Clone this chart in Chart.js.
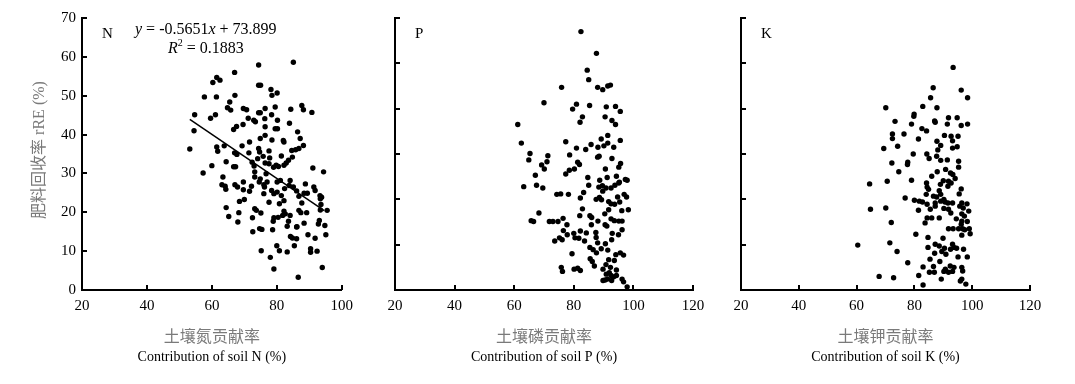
<!DOCTYPE html>
<html>
<head>
<meta charset="utf-8">
<script src="https://cdn.jsdelivr.net/npm/chart.js@4.4.1/dist/chart.umd.min.js"></script>
<style>
  body { margin: 0; background: #fff; width: 1075px; height: 384px; overflow: hidden; position: relative; }
  canvas { position: absolute; top: 0; }
</style>
</head>
<body>
<canvas id="cN" width="360" height="384" style="left:0"></canvas>
<canvas id="cP" width="360" height="384" style="left:360px"></canvas>
<canvas id="cK" width="360" height="384" style="left:715px"></canvas>
<script>
// rRE (%) against soil contribution (%) as [x, y]
const nPoints = [
  [53.2,36.3],[54.7,45.1],[54.5,41.0],[57.3,30.1],[57.7,49.7],[59.6,44.2],[60.0,32.0],[60.3,53.4],[61.1,45.1],[61.4,49.7],
  [61.5,54.7],[62.5,54.0],[61.5,36.8],[61.8,35.7],[63.8,37.1],[63.4,29.1],[63.1,27.1],[64.1,26.7],[64.3,25.9],[64.4,33.0],
  [64.4,21.2],[65.2,18.9],[64.8,46.9],[65.8,46.3],[65.5,48.4],[67.0,56.0],[67.1,50.1],[66.7,41.3],[67.6,42.1],[67.0,35.3],
  [67.7,34.9],[66.7,31.7],[67.3,31.7],[67.1,27.1],[67.9,26.5],[68.0,17.5],[68.3,19.9],[68.5,22.8],[69.6,42.6],[69.7,46.7],
  [70.7,46.4],[69.3,37.1],[69.7,27.8],[69.7,25.8],[70.0,23.3],[71.2,44.2],[71.6,38.1],[71.4,35.3],[71.6,25.4],[72.2,26.7],
  [72.4,32.9],[72.5,18.6],[72.6,15.0],[72.9,43.7],[73.4,43.3],[73.0,31.9],[73.2,30.4],[73.2,29.1],[73.2,20.9],[73.7,20.5],
  [74.4,57.9],[74.4,52.7],[75.0,52.7],[74.4,45.6],[74.9,45.6],[74.4,36.4],[74.7,35.5],[74.1,33.8],[74.9,39.0],[74.9,28.6],
  [74.6,27.8],[75.1,19.8],[74.7,15.8],[75.4,15.6],[75.2,10.1],[76.0,27.1],[76.0,24.8],[76.4,46.7],[76.3,44.1],[76.4,42.0],
  [76.4,39.8],[76.4,32.7],[76.7,29.9],[76.2,26.5],[77.6,35.8],[77.8,34.0],[77.6,32.5],[77.6,22.6],[78.0,8.4],[78.2,51.6],
  [78.4,45.1],[78.5,50.1],[79.0,31.6],[78.5,38.6],[79.1,24.8],[78.4,25.6],[79.1,18.6],[78.7,15.5],[78.9,17.7],[79.1,5.4],
  [79.5,47.1],[80.1,50.7],[79.5,41.5],[80.2,41.5],[80.2,43.7],[79.8,32.1],[80.5,31.8],[80.1,25.2],[80.1,27.8],[80.0,11.4],
  [80.4,18.7],[80.8,10.1],[81.1,28.2],[81.4,34.5],[82.0,38.5],[82.2,38.1],[82.2,32.1],[82.2,23.0],[82.2,20.3],[81.8,19.2],
  [82.9,32.7],[83.2,16.4],[83.2,9.8],[83.6,33.4],[83.8,26.9],[84.1,28.2],[83.9,42.9],[84.3,46.5],[83.6,17.7],[84.1,19.2],
  [84.2,13.8],[84.8,13.4],[85.1,58.6],[84.6,35.9],[84.8,34.2],[85.1,26.5],[85.4,11.4],[85.8,36.1],[86.1,25.5],[86.1,13.2],
  [86.1,16.2],[86.2,16.3],[86.4,40.7],[86.6,3.3],[86.8,36.4],[86.8,24.1],[86.8,20.5],[87.2,39.0],[87.4,19.9],[87.7,22.4],
  [87.7,47.5],[88.2,46.4],[88.2,37.2],[88.4,24.9],[88.4,17.2],[88.8,27.3],[89.2,19.9],[89.4,24.9],[89.6,14.2],[90.4,10.6],
  [90.4,9.7],[90.8,45.7],[91.1,31.4],[91.4,26.5],[91.8,25.6],[91.8,13.3],[92.4,10.0],[92.8,17.0],[93.1,17.9],[93.3,24.3],
  [93.4,23.5],[93.4,20.6],[93.6,22.0],[93.8,23.9],[94.0,5.8],[94.4,30.4],[94.8,16.6],[95.1,14.2],[95.5,20.5],[75.8,34.4],
  [77.0,27.8],[80.8,22.2],[81.4,24.3],[82.4,26.1],[82.6,19.6]
];
const nFit = [[53.2, 43.9], [94.6, 20.4]];

const pPoints = [
  [82.4,57.0],[87.6,52.2],[84.5,48.5],[85.0,46.4],[75.9,44.7],[88.0,44.7],[89.7,44.2],[91.4,45.0],[92.3,45.2],[70.0,41.3],
  [80.9,41.0],[79.6,39.9],[85.3,40.7],[90.9,40.4],[94.0,40.5],[95.6,39.4],[82.9,38.2],[82.1,37.0],[90.5,38.2],[92.8,37.4],
  [94.0,36.5],[61.2,36.5],[62.4,32.4],[77.3,32.7],[80.9,31.3],[84.0,31.0],[85.8,32.1],[88.1,31.5],[89.2,33.3],[90.1,31.8],
  [91.4,34.1],[91.4,32.4],[93.4,31.5],[95.6,33.0],[65.3,30.1],[64.9,28.7],[78.6,29.8],[71.3,29.6],[71.0,28.3],[69.2,27.6],
  [70.1,26.7],[81.3,28.2],[81.9,27.7],[88.0,29.3],[88.5,29.5],[92.8,29.0],[95.7,27.9],[95.1,27.1],[80.2,26.7],[78.5,26.4],
  [77.3,25.6],[90.6,26.7],[67.1,25.3],[84.7,24.8],[91.2,24.8],[94.3,25.1],[95.3,23.8],[97.3,24.4],[97.9,24.2],[63.2,22.8],
  [67.5,23.1],[69.6,22.5],[85.0,23.1],[88.7,24.2],[88.4,22.7],[89.6,23.0],[90.8,22.5],[92.5,22.5],[93.8,23.1],[95.1,23.6],
  [89.7,21.8],[83.3,21.5],[74.3,21.1],[75.6,21.2],[78.2,21.1],[82.2,20.3],[87.5,20.0],[88.6,20.4],[89.3,19.9],[94.7,20.5],
  [96.9,21.1],[97.7,20.5],[91.7,19.5],[92.5,19.0],[93.7,18.9],[95.4,19.4],[91.7,17.7],[90.4,16.8],[96.1,17.5],[98.3,17.7],
  [68.3,17.0],[82.9,17.9],[82.0,16.4],[65.7,15.3],[66.5,15.1],[71.8,15.1],[73.0,15.1],[74.7,15.1],[76.4,15.8],[77.7,14.4],
  [85.4,16.4],[86.0,16.0],[85.9,14.4],[88.1,15.2],[90.5,14.4],[91.1,14.1],[92.5,15.7],[93.6,15.3],[95.1,15.2],[96.2,15.2],
  [76.5,13.1],[80.0,12.5],[82.2,13.0],[84.2,12.6],[87.4,12.7],[96.2,13.3],[92.9,12.5],[95.0,12.2],[77.8,12.2],[75.2,11.5],
  [73.6,10.8],[76.1,11.1],[80.4,11.5],[81.7,11.4],[83.6,10.8],[87.5,11.6],[88.0,10.4],[92.7,11.1],[90.6,10.2],[85.4,9.4],
  [86.5,8.9],[89.2,9.1],[91.4,8.8],[87.6,8.2],[79.4,8.0],[94.1,7.8],[95.6,8.2],[96.7,7.7],[91.7,6.7],[93.6,6.5],
  [85.5,6.9],[86.2,6.3],[86.9,5.3],[90.8,5.6],[89.8,4.6],[92.3,5.0],[75.8,5.0],[76.2,4.1],[80.1,4.6],[81.3,4.8],
  [82.2,4.3],[94.3,4.4],[91.9,3.8],[92.5,3.2],[93.4,2.9],[94.3,3.2],[91.3,2.4],[89.8,2.1],[90.5,2.2],[92.7,2.1],
  [96.2,2.4],[96.7,1.8],[97.9,0.7],[90.9,3.5]
];

const kPoints = [
  [93.4,49.1],[96.2,44.1],[98.4,42.4],[86.5,44.6],[85.6,42.4],[70.1,40.2],[82.9,40.5],[87.8,40.2],[79.9,38.8],[79.8,38.3],
  [73.3,37.2],[87.0,37.3],[87.2,37.0],[91.8,38.0],[94.8,38.0],[79.0,36.6],[91.4,36.6],[96.2,36.3],[98.4,36.6],[82.6,35.6],
  [84.2,35.1],[72.4,34.4],[76.4,34.4],[81.4,33.3],[90.4,34.1],[92.7,33.9],[95.1,33.9],[72.4,33.4],[87.8,32.8],[93.2,32.9],
  [69.4,31.2],[74.2,31.7],[89.1,31.9],[93.2,31.3],[94.8,31.6],[88.1,30.9],[79.6,30.0],[84.3,30.0],[87.7,29.5],[85.1,29.0],
  [91.4,28.7],[89.1,28.6],[95.3,28.4],[77.7,28.2],[72.2,28.0],[77.6,27.7],[95.3,27.1],[74.6,26.1],[87.9,26.1],[90.8,26.6],
  [92.5,25.8],[93.3,25.5],[86.0,25.1],[94.1,24.6],[79.0,24.2],[70.6,24.0],[90.0,24.1],[91.8,24.0],[92.7,23.6],[84.2,23.6],
  [89.0,23.3],[64.5,23.4],[91.6,22.9],[96.2,22.3],[84.4,22.7],[84.9,22.2],[88.6,21.9],[95.5,21.2],[84.1,21.1],[89.1,21.1],
  [76.8,20.3],[86.6,20.7],[87.7,20.5],[90.2,20.0],[80.0,19.8],[81.7,19.6],[82.8,19.4],[87.2,19.2],[89.1,19.6],[90.6,19.4],
  [91.6,19.2],[93.2,19.2],[96.4,19.2],[98.2,19.0],[84.4,18.9],[87.2,18.5],[90.2,18.0],[91.8,17.8],[95.7,18.5],[96.9,18.1],
  [64.8,17.8],[70.1,18.1],[81.4,17.6],[85.5,17.8],[92.6,17.0],[98.8,17.4],[96.4,16.8],[97.3,16.3],[84.4,15.9],[88.6,15.9],
  [86.0,15.9],[94.5,15.7],[96.4,15.2],[98.3,15.1],[72.0,14.9],[83.7,14.8],[96.2,14.5],[91.8,13.5],[93.4,13.5],[95.3,13.5],
  [96.7,13.5],[97.4,13.3],[99.0,13.5],[80.5,12.3],[96.4,12.1],[99.3,12.4],[84.7,11.6],[89.9,11.4],[71.5,10.4],[60.4,9.9],
  [87.2,10.1],[88.6,9.7],[90.4,9.2],[93.2,10.1],[93.7,9.4],[92.5,9.0],[94.6,9.2],[84.7,9.4],[97.0,9.0],[74.0,8.5],
  [87.0,8.1],[89.5,8.5],[90.9,7.9],[95.1,7.3],[98.3,7.3],[85.4,6.8],[88.8,6.3],[77.7,6.0],[92.4,5.3],[90.7,4.6],
  [93.7,5.0],[96.4,5.0],[83.0,5.1],[86.6,5.2],[90.2,4.1],[93.2,4.1],[96.7,4.2],[85.2,3.9],[86.9,3.9],[91.8,3.9],
  [81.5,3.2],[67.8,3.0],[72.8,2.7],[89.3,2.4],[96.4,2.4],[95.9,2.0],[97.8,1.3],[83.0,1.1]
];

const SERIF = "'Liberation Serif', 'Times New Roman', serif";
const CJK = "'Noto Sans CJK SC', sans-serif";
const GREY = '#7a7a7a';

function textRuns(ctx, parts, x, y) {
  parts.forEach(p => {
    ctx.font = p.font;
    ctx.fillText(p.text, x, y + (p.dy || 0));
    x += ctx.measureText(p.text).width;
  });
}

function decorate(cfg) {
  return {
    id: 'decorate',
    afterDraw(chart) {
      const { ctx, chartArea: a, scales } = chart;
      ctx.save();
      // inward ticks
      ctx.strokeStyle = '#000';
      ctx.lineWidth = 2;
      ctx.beginPath();
      scales.x.ticks.forEach(t => {
        const px = Math.round(scales.x.getPixelForValue(t.value));
        ctx.moveTo(px, a.bottom);
        ctx.lineTo(px, a.bottom - 5);
      });
      scales.y.ticks.forEach(t => {
        const py = Math.round(scales.y.getPixelForValue(t.value));
        ctx.moveTo(a.left, py);
        ctx.lineTo(a.left + 5, py);
      });
      ctx.stroke();

      // axis titles
      const cx = (a.left + a.right) / 2;
      ctx.textAlign = 'center';
      ctx.textBaseline = 'middle';
      ctx.fillStyle = GREY;
      ctx.font = '16px ' + CJK;
      ctx.fillText(cfg.cnTitle, cx, 336);
      ctx.fillStyle = '#000';
      ctx.font = '14px ' + SERIF;
      ctx.fillText(cfg.enTitle, cx, 357);

      // panel letter
      ctx.textAlign = 'left';
      ctx.font = '15px ' + SERIF;
      ctx.fillText(cfg.letter, a.left + 20, 34);

      if (cfg.yTitle) {
        ctx.save();
        ctx.translate(40, 150);
        ctx.rotate(-Math.PI / 2);
        ctx.textAlign = 'center';
        ctx.fillStyle = GREY;
        ctx.font = "16px 'Liberation Serif', 'Noto Sans CJK SC'";
        ctx.fillText(cfg.yTitle, 0, 0);
        ctx.restore();
      }

      if (cfg.equation) {
        ctx.fillStyle = '#000';
        const f = '16px ' + SERIF, fi = 'italic 16px ' + SERIF;
        textRuns(ctx, [
          { text: 'y', font: fi }, { text: ' = -0.5651', font: f },
          { text: 'x', font: fi }, { text: ' + 73.899', font: f }
        ], 135, 30);
        textRuns(ctx, [
          { text: 'R', font: fi }, { text: '2', font: '10px ' + SERIF, dy: -6 },
          { text: ' = 0.1883', font: f }
        ], 168, 49);
      }
      ctx.restore();
    }
  };
}

function makePanel(id, cfg) {
  const datasets = [{
    data: cfg.points.map(p => ({ x: p[0], y: p[1] })),
    backgroundColor: '#000',
    borderWidth: 0,
    pointRadius: 2.7
  }];
  if (cfg.fit) {
    datasets.push({
      data: cfg.fit.map(p => ({ x: p[0], y: p[1] })),
      showLine: true,
      borderColor: '#000',
      borderWidth: 1.5,
      pointRadius: 0
    });
  }
  new Chart(document.getElementById(id), {
    type: 'scatter',
    data: { datasets },
    options: {
      responsive: false,
      animation: false,
      layout: { padding: { top: 18, right: cfg.padRight, bottom: 64, left: 0 } },
      plugins: { legend: { display: false }, tooltip: { enabled: false } },
      scales: {
        x: {
          min: 20, max: cfg.xMax,
          grid: { display: false, drawTicks: false },
          border: { display: true, color: '#000', width: 2 },
          ticks: { stepSize: 20, padding: 7, color: '#000', font: { family: SERIF, size: 15 } },
          afterFit: s => { s.height = 30; }
        },
        y: {
          min: 0, max: cfg.yMax,
          grid: { display: false, drawTicks: false },
          border: { display: true, color: '#000', width: 2 },
          ticks: {
            stepSize: 10, padding: 6, color: '#000', font: { family: SERIF, size: 15 },
            callback: v => cfg.yLabels ? v : ''
          },
          afterFit: s => { s.width = cfg.yWidth; }
        }
      }
    },
    plugins: [decorate(cfg)]
  });
}

makePanel('cN', {
  points: nPoints, fit: nFit, xMax: 100, yMax: 70, yLabels: true, yWidth: 82, padRight: 12,
  letter: 'N', cnTitle: '土壤氮贡献率', enTitle: 'Contribution of soil N (%)',
  yTitle: '肥料回收率 rRE (%)', equation: true
});
makePanel('cP', {
  points: pPoints, xMax: 120, yMax: 60, yLabels: false, yWidth: 35, padRight: 27,
  letter: 'P', cnTitle: '土壤磷贡献率', enTitle: 'Contribution of soil P (%)'
});
makePanel('cK', {
  points: kPoints, xMax: 120, yMax: 60, yLabels: false, yWidth: 26, padRight: 45,
  letter: 'K', cnTitle: '土壤钾贡献率', enTitle: 'Contribution of soil K (%)'
});
</script>
</body>
</html>
